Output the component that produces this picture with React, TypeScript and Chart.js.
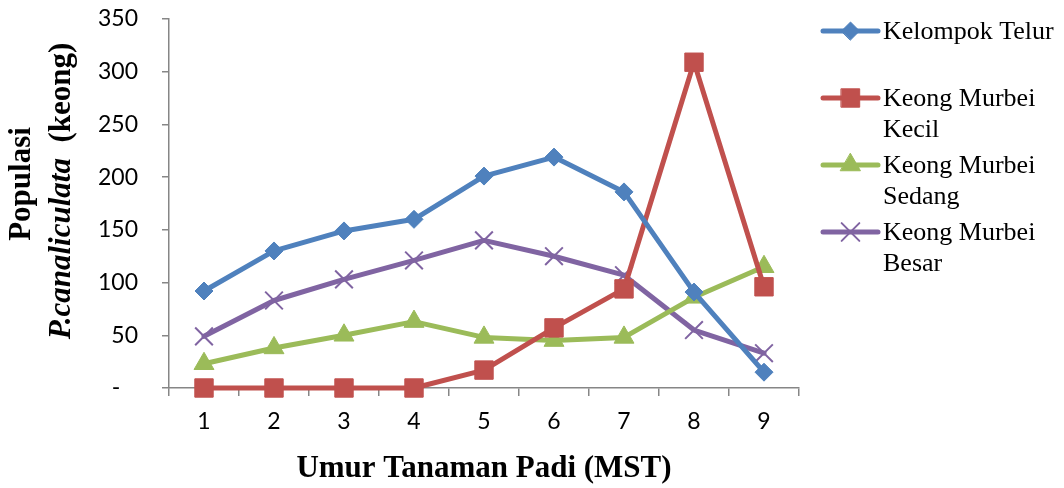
import React, { useEffect, useRef } from 'react';
import { Chart, registerables } from 'chart.js';
import { drawPoint } from 'chart.js/helpers';

Chart.register(...registerables);

const categories = ['1', '2', '3', '4', '5', '6', '7', '8', '9'];
const kelompokTelur = [92, 130, 149, 160, 201, 219, 186, 91, 15];
const keongKecil = [0, 0, 0, 0, 17, 57, 94, 309, 96];
const keongSedang = [23, 38, 50, 63, 48, 45, 48, 86, 115];
const keongBesar = [49, 83, 103, 121, 140, 125, 107, 55, 33];

const seriesLabels = ['Kelompok Telur', 'Keong Murbei Kecil', 'Keong Murbei Sedang', 'Keong Murbei Besar'];
const legendLines = [['Kelompok Telur'], ['Keong Murbei', 'Kecil'], ['Keong Murbei', 'Sedang'], ['Keong Murbei', 'Besar']];
const seriesColors = ['#4F81BD', '#C0504D', '#9BBB59', '#8064A2'];
const pointStyles = ['rectRot', 'rect', 'triangle', 'crossRot'];
const pointRadii = [9, 13, 11.5, 12.5];
const pointBorders = [1, 1, 1, 2];

const yMin = 0;
const yMax = 350;
const yStep = 50;
const zeroLabel = '-   ';

const xTitle = 'Umur Tanaman Padi (MST)';
const yTitleLine1 = 'Populasi';
const yTitleItalic = 'P.canaliculata';
const yTitleRest = '  (keong)';

const AXIS_COLOR = '#868686';
const SERIF = '"Liberation Serif", "Times New Roman", serif';
const SANS = 'Lato, "Open Sans", sans-serif';

const overlayPlugin = {
  id: 'overlayPlugin',
  afterDraw(chart: any) {
    const ctx = chart.ctx as CanvasRenderingContext2D;
    // Y axis title (mixed styles)
    ctx.save();
    ctx.fillStyle = '#000';
    ctx.textBaseline = 'alphabetic';
    ctx.translate(30, 184);
    ctx.rotate(-Math.PI / 2);
    ctx.font = `bold 31px ${SERIF}`;
    ctx.textAlign = 'center';
    ctx.fillText(yTitleLine1, 0, 0);
    ctx.restore();

    ctx.save();
    ctx.fillStyle = '#000';
    ctx.textBaseline = 'alphabetic';
    ctx.translate(70, 191);
    ctx.rotate(-Math.PI / 2);
    ctx.textAlign = 'left';
    ctx.font = `italic bold 31px ${SERIF}`;
    const w1 = ctx.measureText(yTitleItalic).width;
    ctx.font = `bold 31px ${SERIF}`;
    const w2 = ctx.measureText(yTitleRest).width;
    const start = -(w1 + w2) / 2;
    ctx.font = `italic bold 31px ${SERIF}`;
    ctx.fillText(yTitleItalic, start, 0);
    ctx.font = `bold 31px ${SERIF}`;
    ctx.fillText(yTitleRest, start + w1, 0);
    ctx.restore();

    // Legend
    legendLines.forEach((lines, i) => {
      const base = 39 + 67 * i;
      const ly = base - 8;
      ctx.save();
      ctx.strokeStyle = seriesColors[i];
      ctx.lineWidth = 5;
      ctx.lineCap = 'round';
      ctx.beginPath();
      ctx.moveTo(823, ly);
      ctx.lineTo(878, ly);
      ctx.stroke();
      ctx.fillStyle = seriesColors[i];
      ctx.strokeStyle = seriesColors[i];
      ctx.lineWidth = pointBorders[i];
      drawPoint(ctx, { pointStyle: pointStyles[i] as any, radius: pointRadii[i], rotation: 0, borderWidth: pointBorders[i] } as any, 850.5, ly);
      ctx.fillStyle = '#000';
      ctx.font = `26px ${SERIF}`;
      ctx.textAlign = 'left';
      ctx.textBaseline = 'alphabetic';
      lines.forEach((t, j) => ctx.fillText(t, 883, base + 31 * j));
      ctx.restore();
    });
  },
};

export default function App() {
  const ref = useRef<HTMLCanvasElement | null>(null);
  useEffect(() => {
    if (!ref.current) return;
    const series = [kelompokTelur, keongKecil, keongSedang, keongBesar];
    const chart = new Chart(ref.current, {
      type: 'line',
      data: {
        labels: categories,
        datasets: series.map((d, i) => ({
          label: seriesLabels[i],
          data: d,
          borderColor: seriesColors[i],
          backgroundColor: seriesColors[i],
          pointBackgroundColor: seriesColors[i],
          pointBorderColor: seriesColors[i],
          pointStyle: pointStyles[i] as any,
          pointRadius: pointRadii[i],
          pointHoverRadius: pointRadii[i],
          pointBorderWidth: pointBorders[i],
          borderWidth: 5,
          borderCapStyle: 'round' as const,
          borderJoinStyle: 'round' as const,
          tension: 0,
          fill: false,
          clip: false as any,
        })),
      },
      options: {
        responsive: false,
        animation: false,
        layout: { autoPadding: false, padding: { top: 19, right: 265, left: 0, bottom: 0 } },
        plugins: {
          legend: { display: false },
          tooltip: { enabled: false },
        },
        scales: {
          x: {
            type: 'category',
            offset: true,
            grid: { offset: true, drawOnChartArea: false, drawTicks: true, tickLength: 8, color: AXIS_COLOR, lineWidth: 1.5 },
            border: { display: true, color: AXIS_COLOR, width: 1.5 },
            ticks: { color: '#000', font: { family: SANS, size: 23 }, padding: 12, maxRotation: 0, autoSkip: false },
            title: { display: true, text: xTitle, color: '#000', font: { family: SERIF, size: 31, weight: 'bold' }, padding: { top: 0, bottom: 0 } },
            afterFit: (scale: any) => { scale.height = 100; scale.paddingLeft = 0; scale.paddingRight = 0; },
          },
          y: {
            min: yMin,
            max: yMax,
            grid: { drawOnChartArea: false, drawTicks: true, tickLength: 7, color: AXIS_COLOR, lineWidth: 1.5 },
            border: { display: true, color: AXIS_COLOR, width: 1.5 },
            ticks: {
              stepSize: yStep,
              color: '#000',
              font: { family: SANS, size: 23 },
              padding: 24,
              callback: (v: any) => (Number(v) === 0 ? zeroLabel : String(v)),
            },
            afterFit: (scale: any) => { scale.width = 169; scale.paddingTop = 0; scale.paddingBottom = 0; },
          },
        },
      },
      plugins: [overlayPlugin],
    });
    return () => chart.destroy();
  }, []);
  return (
    <div style={{ position: 'fixed', left: 0, top: 0, width: 1064, height: 488, background: '#fff' }}>
      <canvas ref={ref} width={1064} height={488} />
    </div>
  );
}
